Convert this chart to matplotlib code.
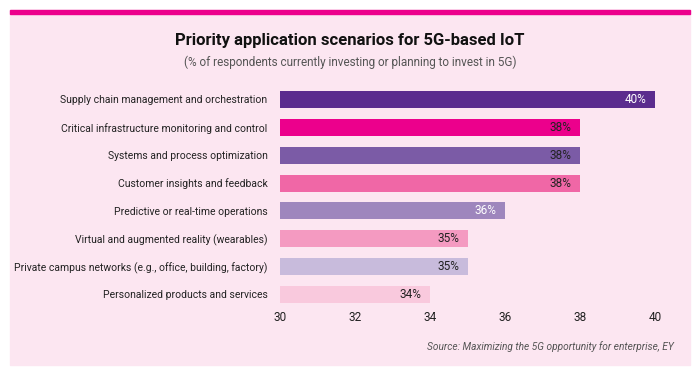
import matplotlib.pyplot as plt
from matplotlib.patches import Rectangle

categories = [
    "Supply chain management and orchestration",
    "Critical infrastructure monitoring and control",
    "Systems and process optimization",
    "Customer insights and feedback",
    "Predictive or real-time operations",
    "Virtual and augmented reality (wearables)",
    "Private campus networks (e.g., office, building, factory)",
    "Personalized products and services",
]
values = [40, 38, 38, 38, 36, 35, 35, 34]
bar_colors = ["#5B2C8E", "#EC008C", "#7B5BA6", "#F067A6",
              "#9E86BD", "#F49AC1", "#C8BBDC", "#F9C9DD"]
label_colors = ["white", "#222222", "#222222", "#222222",
                "white", "#222222", "#222222", "#222222"]
xticks = [30, 32, 34, 36, 38, 40]

plt.rcParams['font.family'] = ['Roboto', 'DejaVu Sans']

fig = plt.figure(figsize=(7, 3.75), dpi=100)
W, H = 700, 375

# pink panel with magenta top stripe
fig.patches.append(Rectangle((10 / W, 1 - 365 / H), 680 / W, 355 / H,
                             transform=fig.transFigure, color="#FCE6F1", zorder=-2))
fig.patches.append(Rectangle((10 / W, 1 - 14 / H), 680 / W, 4 / H,
                             transform=fig.transFigure, color="#EC008C", zorder=-1))

ax = fig.add_axes([280 / W, 1 - 308.4 / H, 375 / W, 222.9 / H])
ax.set_facecolor("none")

y = list(range(len(categories)))
ax.barh(y, [v - 30 for v in values], left=30, height=0.61, color=bar_colors)
for yi, v, c in zip(y, values, label_colors):
    ax.text(v - 0.22, yi, f"{v}%", ha="right", va="center", fontsize=8.5, color=c)

ax.set_xlim(30, 40)
ax.set_ylim(7.5, -0.5)
ax.set_yticks(y)
ax.set_yticklabels(categories, fontsize=7.5, color="#222222")
ax.set_xticks(xticks)
ax.set_xticklabels([str(t) for t in xticks], fontsize=8.5, color="#222222")
ax.tick_params(axis="y", length=0, pad=9)
ax.tick_params(axis="x", length=0, pad=2)
for s in ax.spines.values():
    s.set_visible(False)

fig.text(0.5, 1 - 40 / H, "Priority application scenarios for 5G-based IoT",
         ha="center", va="center", fontsize=12, fontweight="bold", color="#111111")
fig.text(0.5, 1 - 62 / H, "(% of respondents currently investing or planning to invest in 5G)",
         ha="center", va="center", fontsize=8.5, color="#555555")
fig.text(674 / W, 1 - 347 / H, "Source: Maximizing the 5G opportunity for enterprise, EY",
         ha="right", va="center", fontsize=7.3, style="italic", color="#555555")

fig.savefig("out.png", dpi=100, facecolor="white")
